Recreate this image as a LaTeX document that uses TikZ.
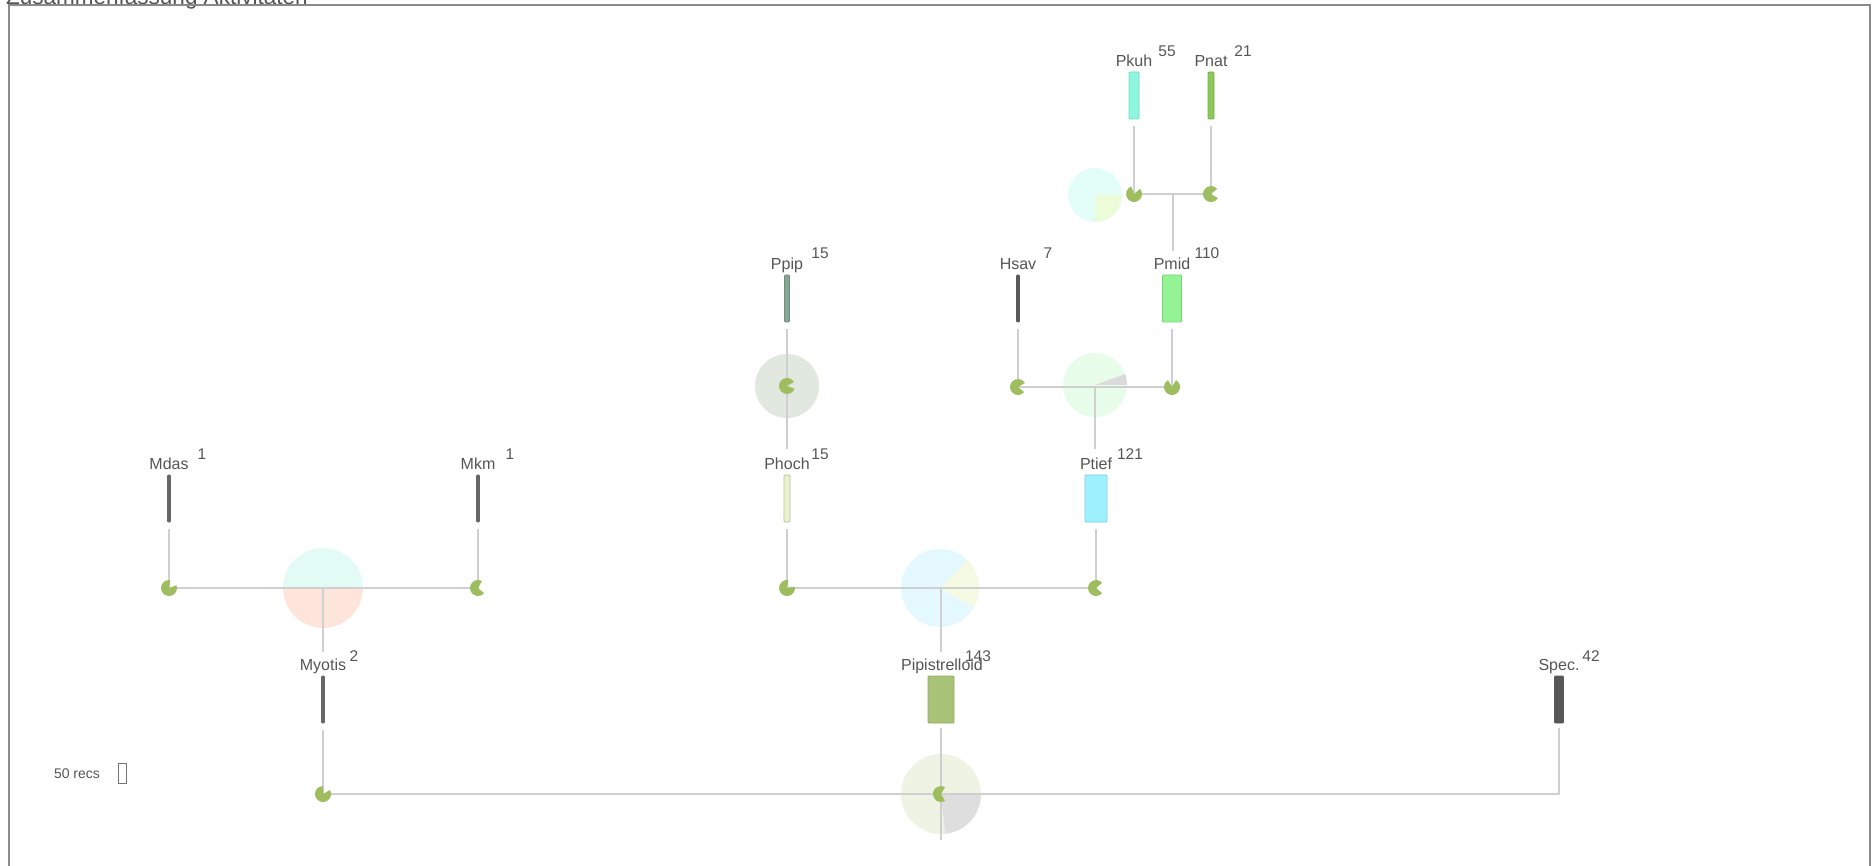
\documentclass[tikz,border=0pt]{standalone}
\usepackage{fontspec}
\setmainfont{Liberation Sans}
\usetikzlibrary{calc}
\definecolor{linegray}{HTML}{CFCFCF}
\definecolor{txt}{HTML}{555555}
\definecolor{piegreen}{HTML}{9EBD5E}
\definecolor{framegray}{HTML}{8A8A8A}
\begin{document}
\begin{tikzpicture}[x=1pt,y=-1pt,
  link/.style={draw=linegray, line width=1.5pt},
  barbox/.style={rectangle, inner sep=0pt, rounded corners=1pt, line width=0.8pt, minimum height=47pt},
  lbl/.style={font=\fontsize{16}{18}\selectfont, text=txt, anchor=base, inner sep=0pt},
  cnt/.style={font=\fontsize{15.5}{18}\selectfont, text=txt, anchor=base, inner sep=0pt}]
\useasboundingbox (0,0) rectangle (1875,866);
% title (cut at top) and frame
\node[font=\fontsize{22.5}{24}\selectfont, text=txt, anchor=base west, inner sep=0pt] (title) at (6,5) {Zusammenfassung Aktivitäten};
\draw[framegray, line width=2pt] (9,900) -- (9,5) -- (1870,5) -- (1870,900);

% ---- big pale pies (background) ----
\fill[color={rgb,255:red,227;green,253;blue,248}] (1095,195) circle (27);
\fill[color={rgb,255:red,236;green,252;blue,217}] (1095,195) -- ++(0:27) arc[start angle=0,end angle=90,radius=27] -- cycle;
\fill[color={rgb,255:red,231;green,253;blue,234}] (1095,385) circle (32);
\fill[color={rgb,255:red,218;green,218;blue,218}] (1095,385) -- ++(-20:32) arc[start angle=-20,end angle=0,radius=32] -- cycle;
\fill[color={rgb,255:red,225;green,232;blue,224}] (787,386) circle (32);
\fill[color={rgb,255:red,227;green,251;blue,245}] (323,588) -- ++(0:40) arc[start angle=0,end angle=-180,radius=40] -- cycle;
\fill[color={rgb,255:red,253;green,229;blue,220}] (323,588) -- ++(0:40) arc[start angle=0,end angle=180,radius=40] -- cycle;
\fill[color={rgb,255:red,227;green,249;blue,255}] (940,588) circle (39);
\fill[color={rgb,255:red,245;green,251;blue,227}] (940,588) -- ++(-45:39) arc[start angle=-45,end angle=30,radius=39] -- cycle;
\fill[color={rgb,255:red,239;green,243;blue,227}] (941,794) circle (40);
\fill[color={rgb,255:red,222;green,222;blue,222}] (941,794) -- ++(0:40) arc[start angle=0,end angle=84,radius=40] -- cycle;

% ---- bars ----
\node[barbox, minimum width=10pt, fill={rgb,255:red,142;green,245;blue,223}, draw={rgb,255:red,118;green,214;blue,192}] (bPkuh) at (1134,95.5) {};
\node[barbox, minimum width=6pt, fill={rgb,255:red,141;green,200;blue,90}, draw={rgb,255:red,118;green,172;blue,72}] (bPnat) at (1211,95.5) {};
\node[barbox, minimum width=5pt, fill={rgb,255:red,134;green,166;blue,148}, draw={rgb,255:red,111;green,143;blue,126}] (bPpip) at (787,298.5) {};
\node[barbox, minimum width=3pt, fill=black!65, draw=black!65] (bHsav) at (1018,298.5) {};
\node[barbox, minimum width=19pt, fill={rgb,255:red,148;green,244;blue,148}, draw={rgb,255:red,118;green,212;blue,118}] (bPmid) at (1172,298.5) {};
\node[barbox, minimum width=3pt, fill=black!60, draw=black!60] (bMdas) at (169,498.5) {};
\node[barbox, minimum width=3pt, fill=black!60, draw=black!60] (bMkm) at (478,498.5) {};
\node[barbox, minimum width=6pt, fill={rgb,255:red,234;green,242;blue,207}, draw={rgb,255:red,179;green,195;blue,154}] (bPhoch) at (787,498.5) {};
\node[barbox, minimum width=22pt, fill={rgb,255:red,159;green,241;blue,255}, draw={rgb,255:red,125;green,208;blue,224}] (bPtief) at (1096,498.5) {};
\node[barbox, minimum width=3pt, fill=black!60, draw=black!60] (bMyotis) at (323,699.5) {};
\node[barbox, minimum width=26pt, fill={rgb,255:red,168;green,195;blue,119}, draw={rgb,255:red,143;green,171;blue,96}] (bPipi) at (941,699.5) {};
\node[barbox, minimum width=9pt, fill=black!66, draw=black!66] (bSpec) at (1559,699.5) {};

% ---- labels and counts ----
\node[lbl] (lPkuh) at (1134,67) {Pkuh};   \node[cnt] (cPkuh) at (1167,57) {55};
\node[lbl] (lPnat) at (1211,67) {Pnat};   \node[cnt] (cPnat) at (1243,57) {21};
\node[lbl] (lPpip) at (787,269.5) {Ppip}; \node[cnt] (cPpip) at (820,259) {15};
\node[lbl] (lHsav) at (1018,269.5) {Hsav}; \node[cnt] (cHsav) at (1048,259) {7};
\node[lbl] (lPmid) at (1172,269.5) {Pmid}; \node[cnt] (cPmid) at (1207,259) {110};
\node[lbl] (lMdas) at (169,469.5) {Mdas}; \node[cnt] (cMdas) at (202,460) {1};
\node[lbl] (lMkm) at (478,469.5) {Mkm};   \node[cnt] (cMkm) at (510,460) {1};
\node[lbl] (lPhoch) at (787,469.5) {Phoch}; \node[cnt] (cPhoch) at (820,460) {15};
\node[lbl] (lPtief) at (1096,469.5) {Ptief}; \node[cnt] (cPtief) at (1130,460) {121};
\node[lbl] (lMyotis) at (323,670.5) {Myotis}; \node[cnt] (cMyotis) at (354,661) {2};
\node[lbl] (lPipi) at (942,670.5) {Pipistrelloid}; \node[cnt] (cPipi) at (978,661) {143};
\node[lbl] (lSpec) at (1559,670.5) {Spec.}; \node[cnt] (cSpec) at (1591,661) {42};

% ---- junction coordinates ----
\coordinate (pPkuh) at (1134,194);
\coordinate (pPnat) at (1211,194);
\coordinate (jTop) at (1173,194);
\coordinate (pPpip) at (787,386);
\coordinate (pHsav) at (1018,387);
\coordinate (pPmid) at (1172,387);
\coordinate (jHP) at (1095,387);
\coordinate (pMdas) at (169,588);
\coordinate (pMkm) at (478,588);
\coordinate (jMy) at (323,588);
\coordinate (pPhoch) at (787,588);
\coordinate (pPtief) at (1096,588);
\coordinate (jPi) at (941,588);
\coordinate (pMyotis) at (323,794);
\coordinate (pPipi) at (941,794);
\coordinate (pSpec) at (1559,794);
\coordinate (endPipi) at (941,840);

% ---- connectors ----
\draw[link] ([yshift=-7pt]bPkuh.south) -- (pPkuh) -- (pPnat) -- ([yshift=-7pt]bPnat.south);
\draw[link] (jTop) -- ($(jTop |- lPmid.north)+(0,-7)$);
\draw[link] ([yshift=-7pt]bPpip.south) -- (pPpip) -- ($(pPpip |- lPhoch.north)+(0,-9)$);
\draw[link] ([yshift=-7pt]bHsav.south) -- (pHsav) -- (pPmid) -- ([yshift=-7pt]bPmid.south);
\draw[link] (jHP) -- ($(jHP |- lPtief.north)+(0,-9)$);
\draw[link] ([yshift=-7pt]bMdas.south) -- (pMdas) -- (pMkm) -- ([yshift=-7pt]bMkm.south);
\draw[link] (jMy) -- ($(jMy |- lMyotis.north)+(0,-7)$);
\draw[link] ([yshift=-7pt]bPhoch.south) -- (pPhoch) -- (pPtief) -- ([yshift=-7pt]bPtief.south);
\draw[link] (jPi) -- ($(jPi |- lPipi.north)+(0,-7)$);
\draw[link] ([yshift=-7pt]bMyotis.south) -- (pMyotis) -- (pSpec) -- ([yshift=-5pt]bSpec.south);
\draw[link] ([yshift=-5pt]bPipi.south) -- (endPipi);

% ---- small green pies ----
\foreach \c/\a/\b in {pPkuh/-40/250, pPnat/30/320, pPpip/20/330, pHsav/40/330, pPmid/-60/240,
                     pMdas/-20/280, pMkm/40/300, pPhoch/-10/280, pPtief/40/320,
                     pMyotis/-30/270, pPipi/60/300}
  \fill[piegreen] (\c) -- ++(\a:8) arc[start angle=\a,end angle=\b,radius=8] -- cycle;

% ---- legend ----
\node[font=\fontsize{14}{16}\selectfont, text=txt, inner sep=0pt] (legtxt) at (77,774) {50 recs};
\node[draw=black!55, line width=1pt, minimum width=8pt, minimum height=20pt, inner sep=0pt] (legbox) at (122,773.5) {};
\end{tikzpicture}
\end{document}
